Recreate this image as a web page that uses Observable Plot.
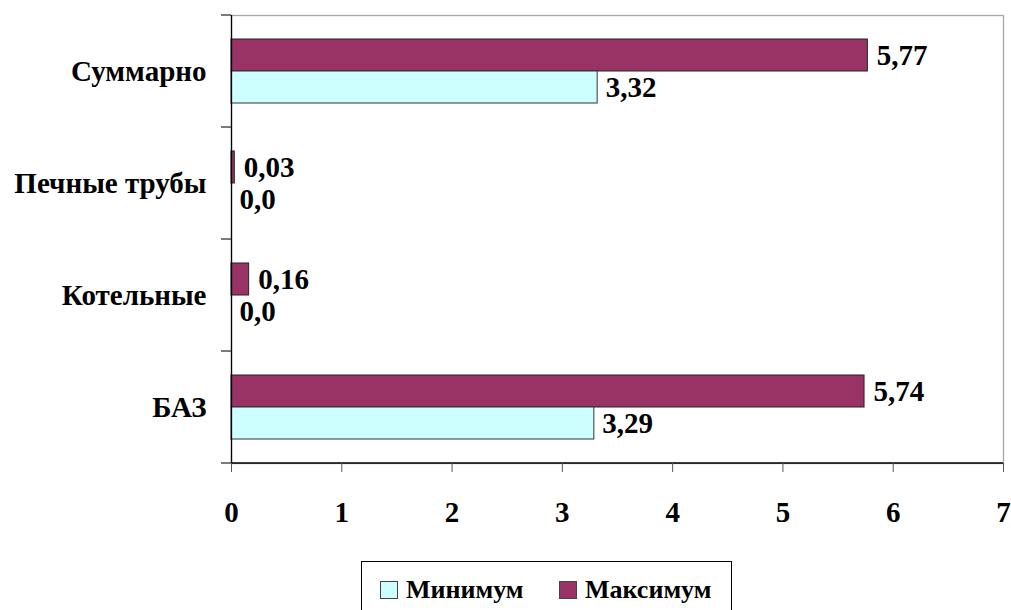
<!DOCTYPE html>
<html>
<head>
<meta charset="utf-8">
<script src="https://cdn.jsdelivr.net/npm/d3@7"></script>
<script src="https://cdn.jsdelivr.net/npm/@observablehq/plot@0.6"></script>
<style>
  html, body { margin: 0; padding: 0; background: #fff; }
  body { width: 1011px; height: 610px; overflow: hidden; font-family: 'Liberation Serif', 'Times New Roman', serif; }
  #legend {
    position: absolute; left: 361px; top: 561px; width: 371px; height: 60px;
    border: 1px solid #000; box-sizing: border-box;
    font-family: 'Liberation Serif', 'Times New Roman', serif;
    font-weight: bold; font-size: 26px; color: #000;
  }
  .item { position: absolute; top: 14px; display: flex; align-items: center; height: 28px; line-height: 28px; }
  .sw { width: 16px; height: 16px; border: 1px solid #444; margin-right: 8px; }
</style>
</head>
<body>
<div id="chart"></div>
<div id="legend"></div>
<script>
const categories = ["Суммарно", "Печные трубы", "Котельные", "БАЗ"];
const maxValues = [5.77, 0.03, 0.16, 5.74];
const minValues = [3.32, 0.0, 0.0, 3.29];
const maxLabels = ["5,77", "0,03", "0,16", "5,74"];
const minLabels = ["3,32", "0,0", "0,0", "3,29"];
const xTicks = [0, 1, 2, 3, 4, 5, 6, 7];
const seriesNames = ["Минимум", "Максимум"];
const seriesColors = ["#CCFFFF", "#993366"];

const maxData = categories.map((c, i) => ({cat: c, v: maxValues[i], label: maxLabels[i]}));
const minData = categories.map((c, i) => ({cat: c, v: minValues[i], label: minLabels[i]}));

const font = "'Liberation Serif', 'Times New Roman', serif";

function boundaryTicks(index, scales, values, dimensions) {
  const ns = "http://www.w3.org/2000/svg";
  const g = document.createElementNS(ns, "g");
  const y = scales.y;
  const bw = typeof y.bandwidth === "function" ? y.bandwidth() : (y.bandwidth || 0);
  const x0 = dimensions.marginLeft;
  const x1 = dimensions.width - dimensions.marginRight;
  const yb = dimensions.height - dimensions.marginBottom;
  const ys = categories.map(c => y(c));
  ys.push(y(categories[categories.length - 1]) + bw);
  for (const yy of ys) {
    const l = document.createElementNS(ns, "line");
    l.setAttribute("x1", x0 - 10); l.setAttribute("x2", x0);
    l.setAttribute("y1", yy); l.setAttribute("y2", yy);
    l.setAttribute("stroke", "#333"); l.setAttribute("stroke-width", 1.3);
    g.appendChild(l);
  }
  const b = document.createElementNS(ns, "line");
  b.setAttribute("x1", x0); b.setAttribute("x2", x1);
  b.setAttribute("y1", yb); b.setAttribute("y2", yb);
  b.setAttribute("stroke", "#000"); b.setAttribute("stroke-width", 1.3);
  g.appendChild(b);
  return g;
}

const chart = Plot.plot({
  width: 1011,
  height: 555,
  marginLeft: 231,
  marginRight: 8,
  marginTop: 15,
  marginBottom: 92,
  style: {fontFamily: font, fontWeight: "bold", fontSize: "29px", color: "#000", background: "#fff", overflow: "visible"},
  x: {domain: [0, 7]},
  y: {domain: categories, padding: 0},
  marks: [
    Plot.frame({stroke: "#a8a8a8", strokeWidth: 1.3}),
    Plot.barX(maxData, {x: "v", y: "cat", fill: seriesColors[1], stroke: "#222", strokeWidth: 1, insetTop: 24, insetBottom: 56}),
    Plot.barX(minData, {x: "v", y: "cat", fill: seriesColors[0], stroke: "#333", strokeWidth: 1, insetTop: 56, insetBottom: 24}),
    Plot.ruleX([0], {stroke: "#000", strokeWidth: 1.3}),
    boundaryTicks,
    Plot.axisX({ticks: xTicks, tickSize: 9, tickPadding: 29, tickFormat: d => String(d), label: null, stroke: "#555", fill: "#000", fontSize: 29, fontWeight: "bold", fontFamily: font}),
    Plot.axisY({tickSize: 0, tickPadding: 25, label: null, fill: "#000", fontSize: 29, fontWeight: "bold", fontFamily: font}),
    Plot.text(maxData, {x: "v", y: "cat", text: "label", dx: 9, dy: -16, textAnchor: "start", fontSize: 29, fontWeight: "bold", fontFamily: font, fill: "#000"}),
    Plot.text(minData, {x: "v", y: "cat", text: "label", dx: 8, dy: 16, textAnchor: "start", fontSize: 29, fontWeight: "bold", fontFamily: font, fill: "#000"})
  ]
});
document.getElementById("chart").appendChild(chart);

const legend = document.getElementById("legend");
const lefts = [18, 197];
seriesNames.forEach((name, i) => {
  const it = document.createElement("div");
  it.className = "item";
  it.style.left = lefts[i] + "px";
  const sw = document.createElement("div");
  sw.className = "sw";
  sw.style.background = seriesColors[i];
  const t = document.createElement("span");
  t.textContent = name;
  it.appendChild(sw); it.appendChild(t);
  legend.appendChild(it);
});
</script>
</body>
</html>
